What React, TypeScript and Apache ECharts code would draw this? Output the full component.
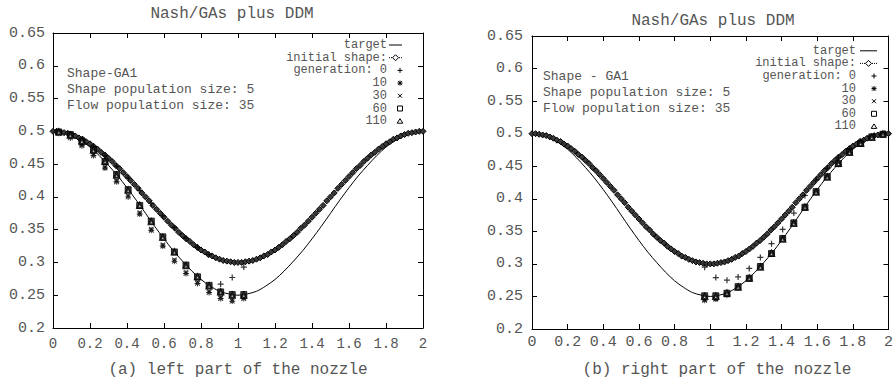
import React, { useEffect, useRef } from "react";
import * as echarts from "echarts";

// ---------- data ----------
const xLine = [0, 0.05, 0.1, 0.15, 0.2, 0.25, 0.3, 0.35, 0.4, 0.45, 0.5, 0.55, 0.6, 0.65, 0.7, 0.75, 0.8, 0.85, 0.9, 0.95, 1.0,
  1.05, 1.1, 1.15, 1.2, 1.25, 1.3, 1.35, 1.4, 1.45, 1.5, 1.55, 1.6, 1.65, 1.7, 1.75, 1.8, 1.85, 1.9, 1.95, 2.0];
const targetY = [0.500, 0.498, 0.494, 0.486, 0.476, 0.463, 0.448, 0.432, 0.414, 0.395, 0.375, 0.355, 0.336, 0.318, 0.302, 0.287, 0.274, 0.264, 0.256, 0.252, 0.250,
  0.252, 0.256, 0.264, 0.274, 0.287, 0.302, 0.318, 0.336, 0.355, 0.375, 0.395, 0.414, 0.432, 0.448, 0.463, 0.476, 0.486, 0.494, 0.498, 0.500];

const xInit = [0, 0.02, 0.04, 0.06, 0.08, 0.1, 0.12, 0.14, 0.16, 0.18,
  0.2, 0.22, 0.24, 0.26, 0.28, 0.3, 0.32, 0.34, 0.36, 0.38,
  0.4, 0.42, 0.44, 0.46, 0.48, 0.5, 0.52, 0.54, 0.56, 0.58,
  0.6, 0.62, 0.64, 0.66, 0.68, 0.7, 0.72, 0.74, 0.76, 0.78,
  0.8, 0.82, 0.84, 0.86, 0.88, 0.9, 0.92, 0.94, 0.96, 0.98,
  1.0,
  1.02, 1.04, 1.06, 1.08, 1.1, 1.12, 1.14, 1.16, 1.18, 1.2,
  1.22, 1.24, 1.26, 1.28, 1.3, 1.32, 1.34, 1.36, 1.38, 1.4,
  1.42, 1.44, 1.46, 1.48, 1.5, 1.52, 1.54, 1.56, 1.58, 1.6,
  1.62, 1.64, 1.66, 1.68, 1.7, 1.72, 1.74, 1.76, 1.78, 1.8,
  1.82, 1.84, 1.86, 1.88, 1.9, 1.92, 1.94, 1.96, 1.98, 2.0];
const initY = [0.500, 0.500, 0.499, 0.498, 0.497, 0.495, 0.493, 0.490, 0.488, 0.484,
  0.481, 0.477, 0.473, 0.468, 0.464, 0.459, 0.454, 0.448, 0.443, 0.437,
  0.431, 0.425, 0.419, 0.413, 0.406, 0.400, 0.394, 0.387, 0.381, 0.375,
  0.369, 0.363, 0.357, 0.352, 0.346, 0.341, 0.336, 0.332, 0.327, 0.323,
  0.319, 0.316, 0.312, 0.310, 0.307, 0.305, 0.303, 0.302, 0.301, 0.300,
  0.300,
  0.300, 0.301, 0.302, 0.303, 0.305, 0.307, 0.310, 0.312, 0.316, 0.319,
  0.323, 0.327, 0.332, 0.336, 0.341, 0.346, 0.352, 0.357, 0.363, 0.369,
  0.375, 0.381, 0.387, 0.394, 0.400, 0.406, 0.413, 0.419, 0.425, 0.431,
  0.437, 0.443, 0.448, 0.454, 0.459, 0.464, 0.468, 0.473, 0.477, 0.481,
  0.484, 0.488, 0.490, 0.493, 0.495, 0.497, 0.498, 0.499, 0.500, 0.500];

const xLeft = [0.03125, 0.09375, 0.15625, 0.21875, 0.28125, 0.34375, 0.40625, 0.46875, 0.53125,
  0.59375, 0.65625, 0.71875, 0.78125, 0.84375, 0.90625, 0.96875, 1.03125];
const xRight = [0.96875, 1.03125, 1.09375, 1.15625, 1.21875, 1.28125, 1.34375, 1.40625, 1.46875,
  1.53125, 1.59375, 1.65625, 1.71875, 1.78125, 1.84375, 1.90625, 1.96875];

const leftGen0 = [0.500, 0.496, 0.488, 0.477, 0.463, 0.447, 0.429, 0.410, 0.390, 0.371, 0.353, 0.337, 0.323, 0.312, 0.267, 0.277, 0.293];
const leftGen10 = [0.497, 0.490, 0.478, 0.463, 0.444, 0.423, 0.400, 0.374, 0.349, 0.325, 0.302, 0.283, 0.268, 0.254, 0.245, 0.241, 0.245];
const leftGen30 = [0.498, 0.492, 0.480, 0.465, 0.446, 0.425, 0.402, 0.376, 0.351, 0.327, 0.304, 0.285, 0.270, 0.256, 0.247, 0.243, 0.246];
const leftGen60 = [0.499, 0.495, 0.485, 0.472, 0.454, 0.434, 0.411, 0.387, 0.363, 0.339, 0.316, 0.296, 0.278, 0.265, 0.255, 0.251, 0.251];
const leftGen110 = [0.499, 0.494, 0.485, 0.471, 0.454, 0.433, 0.410, 0.387, 0.362, 0.338, 0.316, 0.295, 0.278, 0.264, 0.255, 0.250, 0.250];

const rightGen0 = [0.295, 0.279, 0.275, 0.280, 0.293, 0.310, 0.331, 0.353, 0.378, 0.405, 0.429, 0.447, 0.463, 0.477, 0.488, 0.496, 0.500];
const rightGen10 = [0.244, 0.246, 0.252, 0.263, 0.277, 0.295, 0.315, 0.338, 0.362, 0.386, 0.410, 0.433, 0.453, 0.471, 0.484, 0.494, 0.499];
const rightGen30 = [0.245, 0.246, 0.253, 0.264, 0.277, 0.295, 0.315, 0.338, 0.362, 0.386, 0.410, 0.433, 0.453, 0.471, 0.485, 0.494, 0.499];
const rightGen60 = [0.251, 0.251, 0.255, 0.265, 0.278, 0.296, 0.316, 0.339, 0.363, 0.387, 0.411, 0.434, 0.454, 0.472, 0.485, 0.495, 0.499];
const rightGen110 = [0.250, 0.250, 0.255, 0.264, 0.278, 0.295, 0.316, 0.338, 0.362, 0.387, 0.410, 0.433, 0.454, 0.471, 0.485, 0.494, 0.499];

const legendNames = ["target", "initial shape:", "generation: 0", "10", "30", "60", "110"];
const titleText = "Nash/GAs plus DDM";
const captions = ["(a) left part of the nozzle", "(b) right part of the nozzle"];
const notesLeft = ["Shape-GA1", "Shape population size: 5", "Flow population size: 35"];
const notesRight = ["Shape - GA1", "Shape population size: 5", "Flow population size: 35"];

// ---------- styling ----------
const FONT = "'Liberation Mono', 'DejaVu Sans Mono', monospace";
const TXT = "#555";
const PLUS = "path://M4,0H6V4H10V6H6V10H4V6H0V4H4Z";
const CROSS = "path://M0,1.4L1.4,0L10,8.6L8.6,10Z M8.6,0L10,1.4L1.4,10L0,8.6Z";
const STAR = "path://M4.2,0H5.8V4.2H10V5.8H5.8V10H4.2V5.8H0V4.2H4.2Z M0.5,1.6L1.6,0.5L9.5,8.4L8.4,9.5Z M8.4,0.5L9.5,1.6L1.6,9.5L0.5,8.4Z";

const zip = (xs: number[], ys: number[]) => xs.map((x, i) => [x, ys[i]]);

function panelSeries(axisIdx: number, xs: number[], g0: number[], g10: number[], g30: number[], g60: number[], g110: number[]) {
  const ax = { xAxisIndex: axisIdx, yAxisIndex: axisIdx };
  return [
    {
      ...ax, name: "target", type: "line", data: zip(xLine, targetY), symbol: "none", smooth: 0.3,
      lineStyle: { color: "#000", width: 1 }, itemStyle: { color: "#000" }, z: 2,
    },
    {
      ...ax, name: "initial shape:", type: "line", data: zip(xInit, initY), symbol: "diamond", symbolSize: 6,
      lineStyle: { color: "#000", width: 1, type: "dotted" },
      itemStyle: { color: "#3a3a3a", borderColor: "#000", borderWidth: 1 }, z: 3,
    },
    {
      ...ax, name: "generation: 0", type: "scatter", data: zip(xs, g0), symbol: PLUS, symbolSize: 6,
      itemStyle: { color: "#000" }, z: 4,
    },
    {
      ...ax, name: "10", type: "scatter", data: zip(xs, g10), symbol: STAR, symbolSize: 6,
      itemStyle: { color: "#000" }, z: 4,
    },
    {
      ...ax, name: "30", type: "scatter", data: zip(xs, g30), symbol: CROSS, symbolSize: 5,
      itemStyle: { color: "#000" }, z: 4,
    },
    {
      ...ax, name: "60", type: "scatter", data: zip(xs, g60), symbol: "rect", symbolSize: 6,
      itemStyle: { color: "#1a1a1a", borderColor: "#000", borderWidth: 1 }, z: 5,
    },
    {
      ...ax, name: "110", type: "scatter", data: zip(xs, g110), symbol: "emptyTriangle", symbolSize: 5,
      itemStyle: { color: "#000", borderColor: "#000", borderWidth: 1 }, z: 6,
    },
  ];
}

function xAxes(gridIndex: number, fontSize: number, margin: number) {
  const base = {
    gridIndex, type: "value", min: 0, max: 2, interval: 0.2,
    axisLine: { show: true, onZero: false, lineStyle: { color: "#000", width: 1 } },
    axisTick: { show: true, inside: true, length: 5, lineStyle: { color: "#000", width: 1 } },
    splitLine: { show: false },
  };
  return [
    { ...base, position: "bottom", axisLabel: { fontFamily: FONT, fontSize, color: TXT, margin } },
    { ...base, position: "top", axisLabel: { show: false } },
  ];
}

function yAxes(gridIndex: number, fontSize: number, margin: number) {
  const base = {
    gridIndex, type: "value", min: 0.2, max: 0.65, interval: 0.05,
    axisLine: { show: true, onZero: false, lineStyle: { color: "#000", width: 1 } },
    axisTick: { show: true, inside: true, length: 5, lineStyle: { color: "#000", width: 1 } },
    splitLine: { show: false },
  };
  return [
    { ...base, position: "left", axisLabel: { fontFamily: FONT, fontSize, color: TXT, margin } },
    { ...base, position: "right", axisLabel: { show: false } },
  ];
}

function txt(text: string, x: number, y: number, size: number, align: string) {
  return {
    type: "text", x, y, silent: true, z: 10,
    style: {
      text, x: 0, y: 0, fill: TXT, font: `${size}px ${FONT}`,
      align, verticalAlign: "middle", textAlign: align, textVerticalAlign: "middle",
    },
  };
}

const stroke = { stroke: "#000", lineWidth: 1, fill: "none" };
function seg(x1: number, y1: number, x2: number, y2: number, extra: any = {}) {
  return { type: "line", silent: true, z: 10, shape: { x1, y1, x2, y2 }, style: { ...stroke, ...extra } };
}

// hand-made key (text right-aligned, sample on the right), like the plotting program's key
function keyGraphics(textEnd: number, y0: number, dy: number, lx0: number, lx1: number, sx: number, fontSize: number) {
  const out: any[] = [];
  legendNames.forEach((name, i) => {
    const y = y0 + i * dy;
    out.push(txt(name, textEnd, y, fontSize, "right"));
    const r = 2.5;
    if (i === 0) out.push(seg(lx0, y, lx1, y));
    if (i === 1) {
      const cx = (lx0 + lx1) / 2;
      out.push(seg(lx0, y, lx1, y, { lineDash: [1, 1] }));
      out.push({ type: "polygon", silent: true, z: 11, shape: { points: [[cx, y - 3], [cx + 3, y], [cx, y + 3], [cx - 3, y]] },
        style: { stroke: "#000", lineWidth: 1, fill: "#fff" } });
    }
    if (i === 2 || i === 3) { out.push(seg(sx - r, y, sx + r, y)); out.push(seg(sx, y - r, sx, y + r)); }
    if (i === 3 || i === 4) { out.push(seg(sx - 2, y - 2, sx + 2, y + 2)); out.push(seg(sx - 2, y + 2, sx + 2, y - 2)); }
    if (i === 5) out.push({ type: "rect", silent: true, z: 10, shape: { x: sx - 2.5, y: y - 2.5, width: 5, height: 5 }, style: { ...stroke } });
    if (i === 6) out.push({ type: "polygon", silent: true, z: 10, shape: { points: [[sx, y - 2.5], [sx + 2.8, y + 2], [sx - 2.8, y + 2]] }, style: { ...stroke } });
  });
  return out;
}

export default function App() {
  const ref = useRef<HTMLDivElement>(null);
  useEffect(() => {
    if (!ref.current) return;
    const chart = echarts.init(ref.current, null, { renderer: "svg" });
    chart.setOption({
      animation: false,
      backgroundColor: "#fff",
      grid: [
        { left: 53, top: 33, width: 370, height: 295 },
        { left: 532, top: 36, width: 359, height: 293 },
      ],
      // axis index order: 0 bottom-L, 1 top-L, 2 bottom-R, 3 top-R
      xAxis: [...xAxes(0, 14, 9), ...xAxes(1, 15, 6)],
      yAxis: [...yAxes(0, 15, 8), ...yAxes(1, 15, 9)],
      series: [
        ...panelSeries(0, xLeft, leftGen0, leftGen10, leftGen30, leftGen60, leftGen110),
        ...panelSeries(2, xRight, rightGen0, rightGen10, rightGen30, rightGen60, rightGen110),
      ],
      graphic: [
        txt(titleText, 232, 14, 16, "center"),
        txt(titleText, 713, 21, 16, "center"),
        txt(captions[0], 238, 370, 16, "center"),
        txt(captions[1], 717, 370, 16, "center"),
        ...notesLeft.map((t, i) => txt(t, 67, 73 + i * 16, 13, "left")),
        ...notesRight.map((t, i) => txt(t, 543, 76 + i * 16, 13, "left")),
        ...keyGraphics(387, 45, 12.7, 389, 402, 400, 12),
        ...keyGraphics(856, 50.8, 12.6, 860, 877, 874, 12),
      ],
    });
    return () => chart.dispose();
  }, []);
  return <div ref={ref} style={{ position: "absolute", left: 0, top: 0, width: 896, height: 383 }} />;
}
